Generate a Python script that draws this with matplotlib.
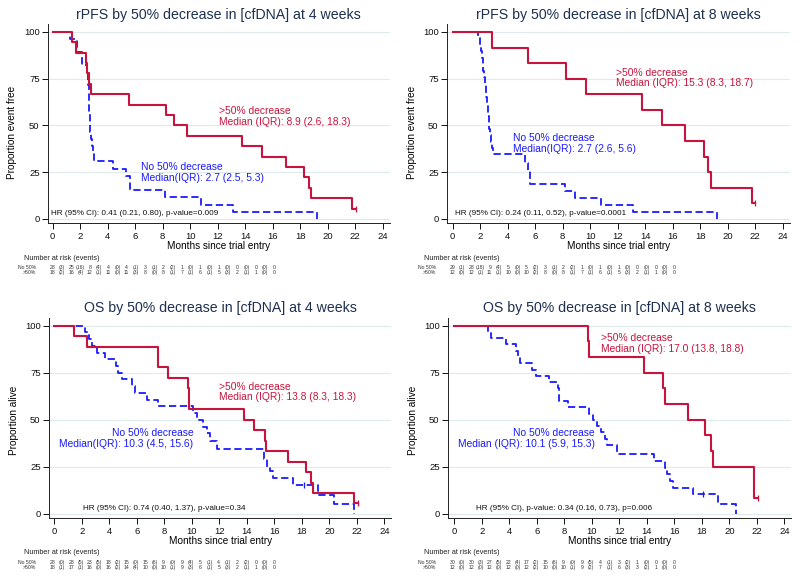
import matplotlib.pyplot as plt

plt.rcParams['font.family'] = ['Liberation Sans', 'DejaVu Sans']

RED = '#c8143c'
BLUE = '#1a1aff'
TITLE_C = '#1e3050'

# ---- rPFS, 4 weeks ----
tl_red_t = [0, 1.43, 1.67, 2.4, 2.52, 2.66, 2.76, 5.55, 8.25, 8.85, 9.75, 13.8, 15.25, 17.0, 18.25, 18.65, 18.8, 21.75, 22.05]
tl_red_s = [100, 94.4, 88.9, 83.3, 77.8, 72.2, 66.7, 61.1, 55.6, 50.0, 44.4, 38.9, 33.3, 27.8, 22.2, 16.7, 11.1, 5.6, 5.6]
tl_blue_t = [0, 1.25, 1.79, 2.1, 2.47, 2.6, 2.63, 2.66, 2.69, 2.72, 2.78, 2.85, 2.92, 3.0, 4.4, 5.35, 5.6, 8.2, 10.8, 13.1, 19.2]
tl_blue_s = [100, 96.4, 89.3, 82.1, 78.6, 71.4, 64.3, 57.1, 50.0, 46.4, 42.9, 39.3, 34.6, 30.8, 26.9, 23.1, 15.4, 11.5, 7.7, 3.8, 0]

# ---- rPFS, 8 weeks ----
tr_red_t = [0, 2.84, 5.5, 8.25, 9.7, 13.75, 15.25, 16.9, 18.25, 18.6, 18.75, 21.75, 22.0]
tr_red_s = [100, 91.7, 83.3, 75.0, 66.7, 58.3, 50.0, 41.7, 33.3, 25.0, 16.7, 8.3, 8.3]
tr_blue_t = [0, 1.86, 2.0, 2.06, 2.12, 2.18, 2.24, 2.3, 2.35, 2.4, 2.45, 2.5, 2.55, 2.6, 2.64, 2.68, 2.72, 2.8, 2.87, 2.95,
             5.25, 5.5, 5.6, 5.65, 8.2, 8.9, 10.8, 13.1, 19.2]
tr_blue_s = [100, 96.6, 93.1, 89.7, 86.2, 82.8, 79.3, 75.9, 72.4, 69.0, 65.5, 62.1, 58.6, 55.2, 51.7, 48.3, 44.8, 41.4, 37.9, 34.5,
             30.2, 25.9, 22.4, 18.9, 15.1, 11.3, 7.5, 3.8, 0]

# ---- OS, 4 weeks ----
bl_red_t = [0, 1.4, 2.4, 7.55, 8.3, 9.72, 9.76, 9.8, 13.8, 14.5, 15.3, 15.4, 17.0, 18.3, 18.7, 18.8, 21.8, 22.05]
bl_red_s = [100, 94.4, 88.9, 77.8, 72.2, 66.7, 61.1, 55.6, 50.0, 44.4, 38.9, 33.3, 27.8, 22.2, 16.7, 11.1, 5.6, 5.6]
bl_blue_t = [0, 2.25, 2.5, 2.75, 3.1, 3.7, 4.45, 4.6, 4.9, 5.65, 5.9, 6.75, 7.55, 10.1, 10.4, 10.8, 11.1, 11.3, 11.8,
             15.28, 15.45, 15.7, 15.9, 17.33, 19.16, 20.36, 21.8]
bl_blue_s = [100, 96.4, 92.9, 89.3, 85.7, 82.1, 78.6, 75.0, 71.4, 67.9, 64.3, 60.7, 57.1, 53.6, 50.0, 46.4, 42.9, 38.6, 34.3,
             29.0, 24.2, 22.9, 19.0, 15.2, 10.1, 5.1, 0]
bl_blue_cens = [18.15]
bl_blue_cens_s = [15.2]

# ---- OS, 8 weeks ----
br_red_t = [0, 9.73, 9.8, 13.8, 15.2, 15.35, 17.0, 18.25, 18.7, 18.8, 21.8, 22.05]
br_red_s = [100, 91.7, 83.3, 75.0, 66.7, 58.3, 50.0, 41.7, 33.3, 25.0, 8.3, 8.3]
br_blue_t = [0, 2.46, 2.7, 3.73, 4.5, 4.6, 4.75, 5.66, 5.95, 6.87, 7.52, 7.58, 7.64, 8.24, 9.76, 10.05, 10.4, 10.7, 10.95, 11.1, 11.8,
             14.5, 15.3, 15.5, 15.7, 15.9, 17.33, 19.2, 20.45]
br_blue_s = [100, 96.7, 93.3, 90.0, 86.7, 83.3, 80.0, 76.7, 73.3, 70.0, 66.7, 63.3, 60.0, 56.7, 53.3, 50.0, 46.7, 43.3, 40.0, 36.7, 31.7,
             28.3, 24.6, 21.0, 17.5, 14.0, 10.6, 5.3, 0]
br_blue_cens = [18.1]
br_blue_cens_s = [10.6]

# number at risk (at 0,2,...,24) and events in each interval
tl_risk_no = [28, 25, 8, 4, 4, 3, 2, 1, 1, 1, 0, 0, 0]
tl_ev_no = [3, 16, 4, 0, 1, 1, 2, 0, 0, 0, 0, 0]
tl_risk_gt = [18, 16, 12, 11, 11, 8, 8, 7, 6, 5, 2, 1, 0]
tl_ev_gt = [2, 4, 1, 0, 3, 0, 1, 1, 1, 3, 1, 0]
tr_risk_no = [29, 28, 9, 5, 5, 3, 2, 1, 1, 1, 0, 0, 0]
tr_ev_no = [1, 18, 4, 0, 2, 1, 2, 0, 0, 0, 0, 0]
tr_risk_gt = [12, 12, 11, 10, 10, 8, 8, 7, 6, 5, 2, 1, 0]
tr_ev_gt = [0, 1, 1, 0, 2, 0, 1, 1, 1, 3, 1, 0]
bl_risk_no = [28, 28, 23, 18, 15, 15, 9, 9, 5, 4, 2, 0, 0]
bl_ev_no = [0, 5, 5, 2, 0, 6, 0, 4, 1, 1, 2, 0]
bl_risk_gt = [18, 17, 16, 16, 14, 10, 10, 9, 6, 5, 2, 1, 0]
bl_ev_gt = [1, 1, 0, 2, 4, 0, 1, 3, 1, 3, 1, 0]
br_risk_no = [30, 30, 27, 22, 17, 15, 9, 9, 4, 3, 1, 0, 0]
br_ev_no = [0, 3, 5, 4, 2, 6, 0, 5, 1, 2, 0, 0]
br_risk_gt = [12, 12, 12, 12, 12, 10, 10, 9, 7, 6, 3, 1, 0]
br_ev_gt = [0, 0, 0, 0, 2, 0, 1, 2, 1, 3, 2, 0]

titles = ['rPFS by 50% decrease in [cfDNA] at 4 weeks', 'rPFS by 50% decrease in [cfDNA] at 8 weeks',
          'OS by 50% decrease in [cfDNA] at 4 weeks', 'OS by 50% decrease in [cfDNA] at 8 weeks']
ylabels = ['Proportion event free', 'Proportion event free', 'Proportion alive', 'Proportion alive']
red_notes = [('>50% decrease', 'Median (IQR): 8.9 (2.6, 18.3)'),
             ('>50% decrease', 'Median (IQR): 15.3 (8.3, 18.7)'),
             ('>50% decrease', 'Median (IQR): 13.8 (8.3, 18.3)'),
             ('>50% decrease', 'Median (IQR): 17.0 (13.8, 18.8)')]
blue_notes = [('No 50% decrease', 'Median(IQR): 2.7 (2.5, 5.3)'),
              ('No 50% decrease', 'Median(IQR): 2.7 (2.6, 5.6)'),
              ('No 50% decrease', 'Median(IQR): 10.3 (4.5, 15.6)'),
              ('No 50% decrease', 'Median (IQR): 10.1 (5.9, 15.3)')]
hr_notes = ['HR (95% CI): 0.41 (0.21, 0.80), p-value=0.009',
            'HR (95% CI): 0.24 (0.11, 0.52), p-value=0.0001',
            'HR (95% CI): 0.74 (0.40, 1.37), p-value=0.34',
            'HR (95% CI), p-value: 0.34 (0.16, 0.73), p=0.006']

W, H = 800, 581
fig = plt.figure(figsize=(W / 100, H / 100), dpi=100)


def px_rect(l, r, t, b):
    return [l / W, 1 - b / H, (r - l) / W, (b - t) / H]


# layout per panel: axes rect px, xlim left, text anchors
panels = [
    dict(rect=(48, 389.6, 24.5, 223.3), x0=-0.34, red=(tl_red_t, tl_red_s), blue=(tl_blue_t, tl_blue_s), cens=None,
         rpos=(12.1, 57.8, 52.0, 'left'), bpos=(6.45, 28.0, 22.1, 'left'), hpos=(-0.15, 3.0),
         ylab=(-0.105, 0.455), tab_y=(258.3, 267.3, 272.3), tab_x=0,
         risk=(tl_risk_no, tl_ev_no, tl_risk_gt, tl_ev_gt)),
    dict(rect=(447, 789.6, 24.5, 223.3), x0=-0.41, red=(tr_red_t, tr_red_s), blue=(tr_blue_t, tr_blue_s), cens=None,
         rpos=(11.9, 77.9, 72.6, 'left'), bpos=(4.4, 43.1, 37.4, 'left'), hpos=(0.17, 3.0),
         ylab=(-0.101, 0.455), tab_y=(258.3, 267.3, 272.3), tab_x=400,
         risk=(tr_risk_no, tr_ev_no, tr_risk_gt, tr_ev_gt)),
    dict(rect=(49, 391.2, 318.1, 518.3), x0=-0.39, red=(bl_red_t, bl_red_s), blue=(bl_blue_t, bl_blue_s),
         cens=(bl_blue_cens, bl_blue_cens_s),
         rpos=(11.95, 67.6, 62.0, 'left'), bpos=(10.1, 42.9, 37.0, 'right'), hpos=(2.07, 2.7),
         ylab=(-0.103, 0.487), tab_y=(552.7, 562.3, 567.3), tab_x=0,
         risk=(bl_risk_no, bl_ev_no, bl_risk_gt, bl_ev_gt)),
    dict(rect=(448, 791.2, 318.1, 518.3), x0=-0.46, red=(br_red_t, br_red_s), blue=(br_blue_t, br_blue_s),
         cens=(br_blue_cens, br_blue_cens_s),
         rpos=(10.7, 93.6, 87.6, 'left'), bpos=(10.2, 42.9, 37.0, 'right'), hpos=(1.58, 2.7),
         ylab=(-0.103, 0.487), tab_y=(552.7, 562.3, 567.3), tab_x=400,
         risk=(br_risk_no, br_ev_no, br_risk_gt, br_ev_gt)),
]

for i, p in enumerate(panels):
    l, r, t, b = p['rect']
    ax = fig.add_axes(px_rect(l, r, t, b))
    ax.set_xlim(p['x0'], 24.5)
    ax.set_ylim(-2.3, 104)
    ax.set_xticks(range(0, 25, 2))
    ax.set_yticks([0, 25, 50, 75, 100])
    ax.yaxis.grid(True, color='#dfeaed', lw=0.8)
    ax.set_axisbelow(True)
    for s in ['top', 'right']:
        ax.spines[s].set_visible(False)
    for s in ['left', 'bottom']:
        ax.spines[s].set_linewidth(0.7)
        ax.spines[s].set_color('#222222')
    ax.tick_params(labelsize=6.8, length=4, width=0.7, pad=2, colors='#111111')

    bt, bs = p['blue']
    ax.step(bt, bs, where='post', color=BLUE, lw=1.3, ls=(0, (4, 2)))
    if p['cens'] is not None:
        ax.plot(p['cens'][0], p['cens'][1], ls='none', marker='|', ms=4, mew=0.9, color=BLUE)
    rt, rs = p['red']
    ax.step(rt, rs, where='post', color=RED, lw=1.5)
    ax.plot([rt[-1]], [rs[-1]], ls='none', marker='|', ms=4, mew=0.9, color=RED)

    ax.set_title(titles[i], fontsize=10.2, color=TITLE_C, y=1.048, va='center', pad=0)
    ax.set_ylabel(ylabels[i], fontsize=7.2, va='center')
    ax.yaxis.set_label_coords(*p['ylab'])
    ax.set_xlabel('Months since trial entry', fontsize=7.2, va='center')
    ax.xaxis.set_label_coords(0.5, -0.112)

    x, y1, y2, ha = p['rpos']
    ax.text(x, y1, red_notes[i][0], color=RED, fontsize=7.4, ha=ha, va='center')
    ax.text(x, y2, red_notes[i][1], color=RED, fontsize=7.4, ha=ha, va='center')
    x, y1, y2, ha = p['bpos']
    ax.text(x, y1, blue_notes[i][0], color=BLUE, fontsize=7.4, ha=ha, va='center')
    ax.text(x, y2, blue_notes[i][1], color=BLUE, fontsize=7.4, ha=ha, va='center')
    ax.text(p['hpos'][0], p['hpos'][1], hr_notes[i], fontsize=5.9, ha='left', va='center', color='#111111')

    # number at risk table
    hy, ry1, ry2 = p['tab_y']
    ox = p['tab_x']
    fig.text((24 + ox) / W, 1 - hy / H, 'Number at risk (events)', fontsize=5.2, ha='left', va='center', color='#222222')
    risk_no, ev_no, risk_gt, ev_gt = p['risk']
    for ry, lab, rk, ev in [(ry1, 'No 50%', risk_no, ev_no), (ry2, '>50%', risk_gt, ev_gt)]:
        fig.text((36 + ox) / W, 1 - ry / H, lab, fontsize=3.7, ha='right', va='center', color='#333333')
        cells = []
        for k in range(len(rk)):
            cells.append(str(rk[k]))
            if k < len(ev):
                cells.append('(%d)' % ev[k])
        for j, c in enumerate(cells):
            fig.text((52.9 + ox + j * 9.22) / W, 1 - ry / H, c, fontsize=3.7, ha='center', va='center', color='#333333')

fig.savefig('out.png', dpi=100, facecolor='white')
